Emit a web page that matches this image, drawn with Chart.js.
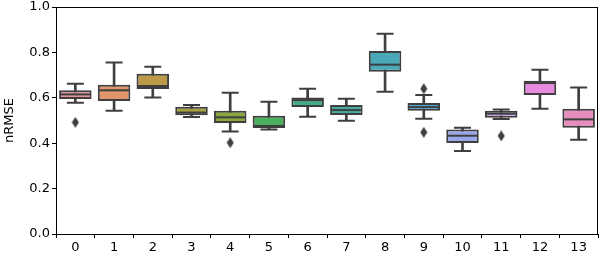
<!DOCTYPE html>
<html>
<head>
<meta charset="utf-8">
<script src="https://cdn.jsdelivr.net/npm/chart.js@4.4.0/dist/chart.umd.min.js"></script>
<style>
  html, body { margin: 0; padding: 0; background: #fff; }
  #wrap { width: 601px; height: 258px; }
</style>
</head>
<body>
<div id="wrap"><canvas id="chart" width="601" height="258"></canvas></div>
<script>
// box plot values
const categories = ['0','1','2','3','4','5','6','7','8','9','10','11','12','13'];
const whiskerLow  = [0.578,0.543,0.601,0.515,0.451,0.460,0.517,0.499,0.627,0.508,0.366,0.507,0.552,0.415];
const q1          = [0.595,0.586,0.639,0.523,0.489,0.467,0.559,0.524,0.715,0.543,0.401,0.512,0.612,0.468];
const medians     = [0.615,0.633,0.652,0.535,0.514,0.476,0.590,0.546,0.746,0.559,0.433,0.530,0.665,0.505];
const q3          = [0.633,0.658,0.706,0.561,0.543,0.521,0.601,0.568,0.806,0.577,0.460,0.543,0.675,0.552];
const whiskerHigh = [0.662,0.755,0.737,0.568,0.622,0.583,0.640,0.596,0.882,0.612,0.468,0.549,0.724,0.645];
const outliersLow  = [0.492,null,null,null,0.402,null,null,null,null,0.448,null,0.432,null,null];
const outliersHigh = [null,null,null,null,null,null,null,null,null,0.640,null,null,null,null];
const yTicks = [0, 0.2, 0.4, 0.6, 0.8, 1.0];

const boxColors = ['#e8909b','#e0956a','#bc9a48','#a5a23f','#8aa83e','#4cb05e','#47ab88',
                   '#45aa9f','#49a9b9','#51a6d6','#9aa7e8','#c49ceb','#e88ae0','#e68dbe'];
const edge = '#3f3f3f';
const font = { family: 'DejaVu Sans', size: 13 };

// thin diamond marker like matplotlib's 'd'
const diamond = document.createElement('canvas');
diamond.width = 8; diamond.height = 11;
(function () {
  const c = diamond.getContext('2d');
  c.fillStyle = edge;
  c.beginPath();
  c.moveTo(4, 0); c.lineTo(7.5, 5.5); c.lineTo(4, 11); c.lineTo(0.5, 5.5);
  c.closePath(); c.fill();
})();

const frame = {
  id: 'frame',
  afterDraw(chart) {
    const a = chart.chartArea, ctx = chart.ctx;
    ctx.save();
    ctx.strokeStyle = '#000';
    ctx.lineWidth = 1;
    ctx.strokeRect(a.left + 0.5, a.top + 0.5, a.right - a.left - 1, a.bottom - a.top);
    ctx.restore();
  }
};

function marks(data, radius, order) {
  return {
    type: 'line', data: data, showLine: false, order: order,
    pointStyle: 'line', pointRadius: radius, pointBorderWidth: 2,
    borderColor: edge, pointBorderColor: edge, backgroundColor: edge
  };
}

new Chart(document.getElementById('chart'), {
  type: 'bar',
  data: {
    labels: categories,
    datasets: [
      { data: categories.map((c, i) => [whiskerLow[i], whiskerHigh[i]]), grouped: false, order: 3,
        barThickness: 2, backgroundColor: edge, borderWidth: 0 },
      { data: categories.map((c, i) => [q1[i], q3[i]]), grouped: false, order: 2,
        barPercentage: 0.84, categoryPercentage: 1.0, backgroundColor: boxColors,
        borderColor: edge, borderWidth: 2, borderSkipped: false },
      marks(medians, 15, 1),
      marks(whiskerLow, 8.5, 1),
      marks(whiskerHigh, 8.5, 1),
      { type: 'line', data: outliersLow, showLine: false, order: 0, pointStyle: diamond },
      { type: 'line', data: outliersHigh, showLine: false, order: 0, pointStyle: diamond }
    ]
  },
  options: {
    responsive: false,
    animation: false,
    events: [],
    layout: { autoPadding: false, padding: { top: 7, right: 3, left: 0, bottom: 0 } },
    plugins: { legend: { display: false }, tooltip: { enabled: false } },
    scales: {
      x: {
        offset: true,
        grid: { display: true, drawOnChartArea: false, drawTicks: true, tickLength: 4, tickColor: '#000' },
        border: { display: true, color: '#000' },
        ticks: { color: '#000', font: font, padding: 2, maxRotation: 0 },
        afterFit: s => { s.height = 24; s.paddingLeft = 0; s.paddingRight = 0; }
      },
      y: {
        min: 0, max: 1,
        afterBuildTicks: s => { s.ticks = yTicks.map(v => ({ value: v })); },
        grid: { display: true, drawOnChartArea: false, drawTicks: true, tickLength: 4, tickColor: '#000' },
        border: { display: true, color: '#000' },
        ticks: { color: '#000', font: font, padding: 2, callback: v => v.toFixed(1) },
        title: { display: true, text: 'nRMSE', color: '#000', font: font, padding: { top: 2, bottom: 0 } },
        afterFit: s => { s.width = 56; s.paddingTop = 0; s.paddingBottom = 0; }
      }
    }
  },
  plugins: [frame]
});
</script>
</body>
</html>
